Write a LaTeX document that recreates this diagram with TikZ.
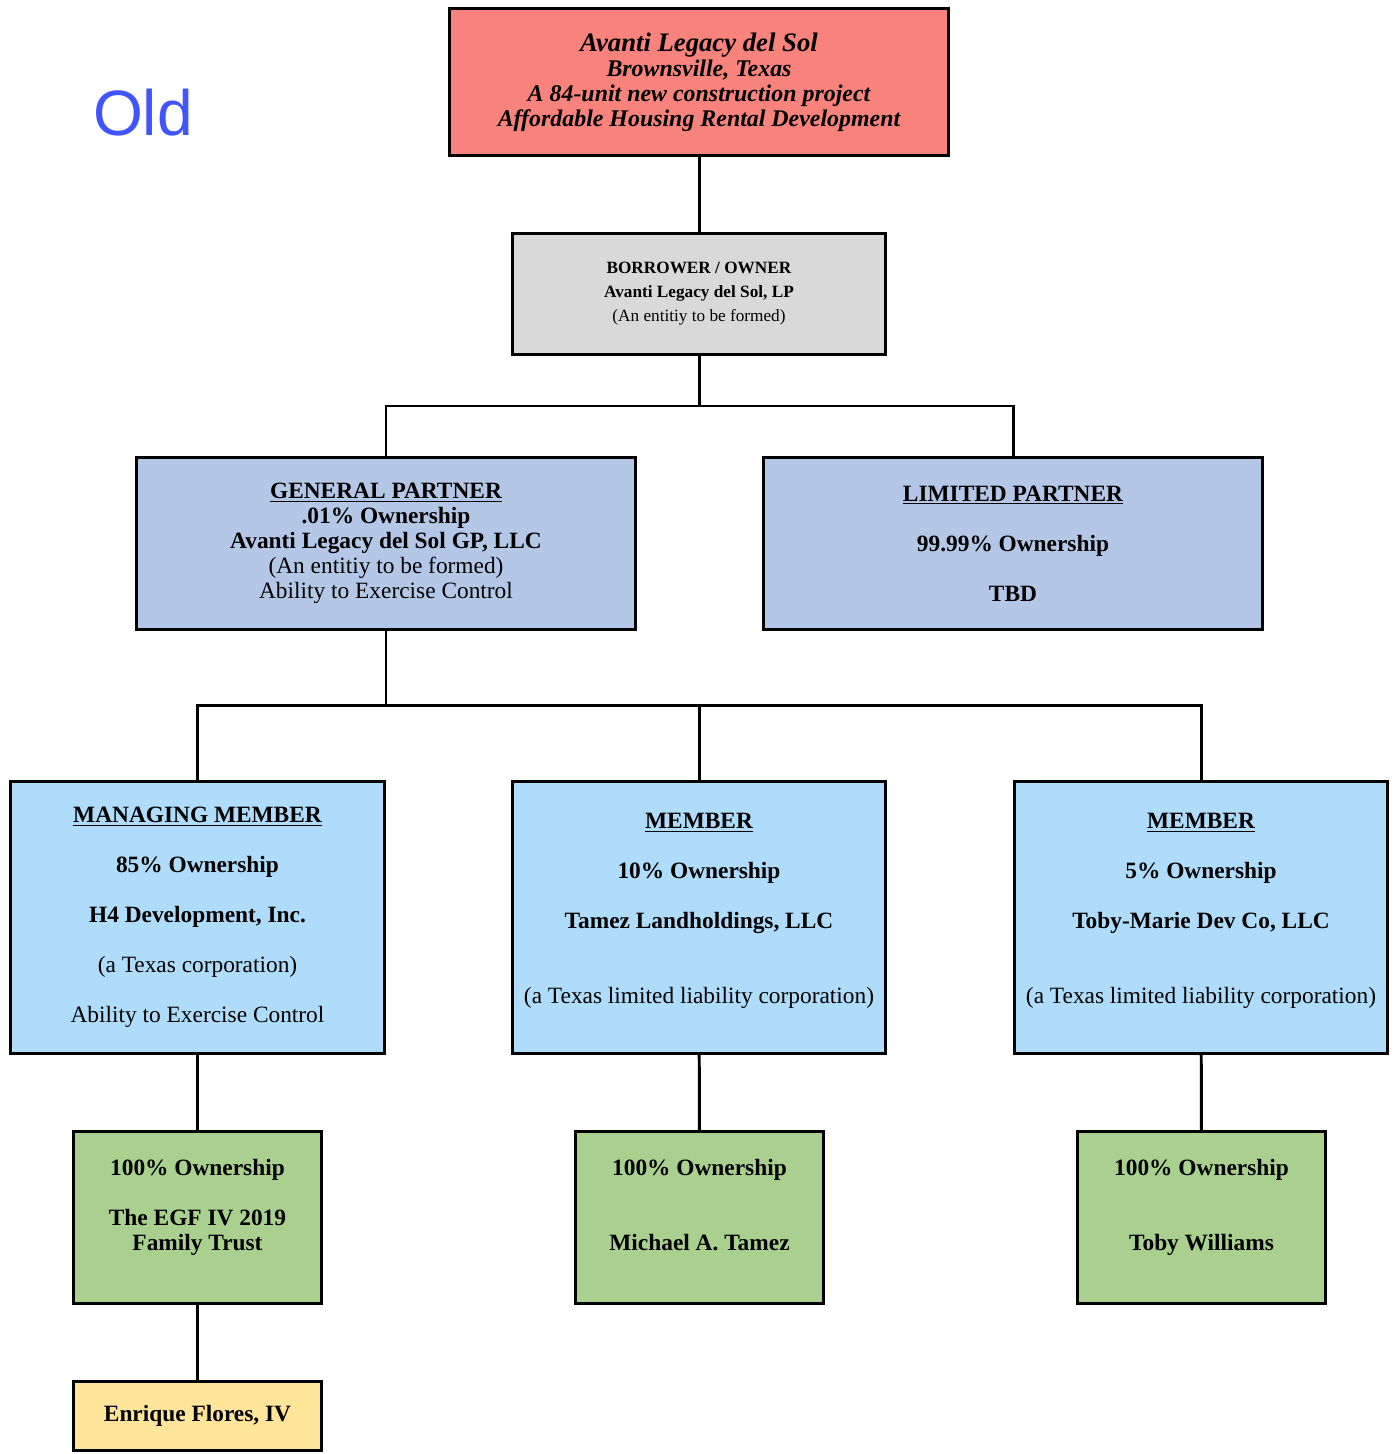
\documentclass[tikz,border=0pt]{standalone}
\usepackage{fontspec}
\setmainfont{Liberation Serif}
\newfontfamily\oldfont{Liberation Sans}
\usepackage{tikz}

\definecolor{topred}{RGB}{248,130,124}
\definecolor{ownergray}{RGB}{217,217,217}
\definecolor{partnerblue}{RGB}{180,199,231}
\definecolor{memberblue}{RGB}{174,220,250}
\definecolor{trustgreen}{RGB}{169,208,142}
\definecolor{personyellow}{RGB}{255,229,153}
\definecolor{oldblue}{RGB}{64,84,255}

\begin{document}
\begin{tikzpicture}[x=0.02cm, y=-0.02cm, line width=1.7pt,
    box/.style={draw, rectangle, align=center, inner sep=0pt, font=\fontsize{13.3}{14.2}\selectfont},
    wide/.style={box, minimum width=9.98cm, minimum height=3.44cm, fill=partnerblue},
    member/.style={box, minimum width=7.48cm, minimum height=5.44cm, fill=memberblue},
    trust/.style={box, minimum width=4.96cm, minimum height=3.44cm, fill=trustgreen}]
    \useasboundingbox (0,0) rectangle (1394,1454);

    \node (old) at (143,113) {\oldfont\fontsize{36.5}{40}\selectfont\color{oldblue}Old};

    \node[box, fill=topred, minimum width=9.98cm, minimum height=2.94cm, font=\fontsize{13.6}{14.2}\selectfont\bfseries\itshape] (project) at (699,82)
        {{\fontsize{15.2}{14.2}\selectfont Avanti Legacy del Sol}\\Brownsville, Texas\\A 84-unit new construction project\\Affordable Housing Rental Development};
    \node[box, fill=ownergray, minimum width=7.46cm, minimum height=2.42cm, font=\fontsize{9.8}{13.6}\selectfont] (owner) at (699,294)
        {\textbf{BORROWER / OWNER}\\\textbf{Avanti Legacy del Sol, LP}\\(An entitiy to be formed)};

    \node[wide] (gp) at (386,543.5)
        {\textbf{\underline{GENERAL PARTNER}}\\\textbf{.01\% Ownership}\\\textbf{Avanti Legacy del Sol GP, LLC}\\(An entitiy to be formed)\\Ability to Exercise Control};
    \node[wide] (lp) at (1013,543.5)
        {\textbf{\underline{LIMITED PARTNER}}\\[14.2pt]\textbf{99.99\% Ownership}\\[14.2pt]\textbf{TBD}};

    \node[member] (mm) at (197.5,917.5)
        {\textbf{\underline{MANAGING MEMBER}}\\[14.2pt]\textbf{85\% Ownership}\\[14.2pt]\textbf{H4 Development, Inc.}\\[14.2pt](a Texas corporation)\\[14.2pt]Ability to Exercise Control};
    \node[member] (m2) at (699,917.5)
        {\textbf{\underline{MEMBER}}\\[14.2pt]\textbf{10\% Ownership}\\[14.2pt]\textbf{Tamez Landholdings, LLC}\\[28.4pt](a Texas limited liability corporation)\\[-4pt]~};
    \node[member] (m3) at (1201,917.5)
        {\textbf{\underline{MEMBER}}\\[14.2pt]\textbf{5\% Ownership}\\[14.2pt]\textbf{Toby-Marie Dev Co, LLC}\\[28.4pt](a Texas limited liability corporation)\\[-4pt]~};

    \node[trust] (egf) at (197.5,1217.5)
        {\textbf{100\% Ownership}\\[14.2pt]\textbf{The EGF IV 2019}\\\textbf{Family Trust}\\~};
    \node[trust] (tamez) at (699.5,1217.5)
        {\textbf{100\% Ownership}\\[28.4pt]\textbf{Michael A. Tamez}\\~};
    \node[trust] (toby) at (1201.5,1217.5)
        {\textbf{100\% Ownership}\\[28.4pt]\textbf{Toby Williams}\\~};

    \node[box, fill=personyellow, minimum width=4.96cm, minimum height=1.38cm] (flores) at (197.5,1416)
        {\textbf{Enrique Flores, IV}};

    \coordinate (split1) at (0,406);
    \coordinate (split2) at (0,705);

    \draw (project) -- (owner);
    \draw (owner.south) -- (owner.south |- split1) -| (gp.north);
    \draw (owner.south |- split1) -| (lp.north);
    \draw (gp.south) -- (gp.south |- split2) -| (mm.north);
    \draw (gp.south |- split2) -| (m2.north);
    \draw (gp.south |- split2) -| (m3.north);
    \draw (mm) -- (egf);
    \draw (m2) -- (tamez);
    \draw (m3) -- (toby);
    \draw (egf) -- (flores);
\end{tikzpicture}
\end{document}
